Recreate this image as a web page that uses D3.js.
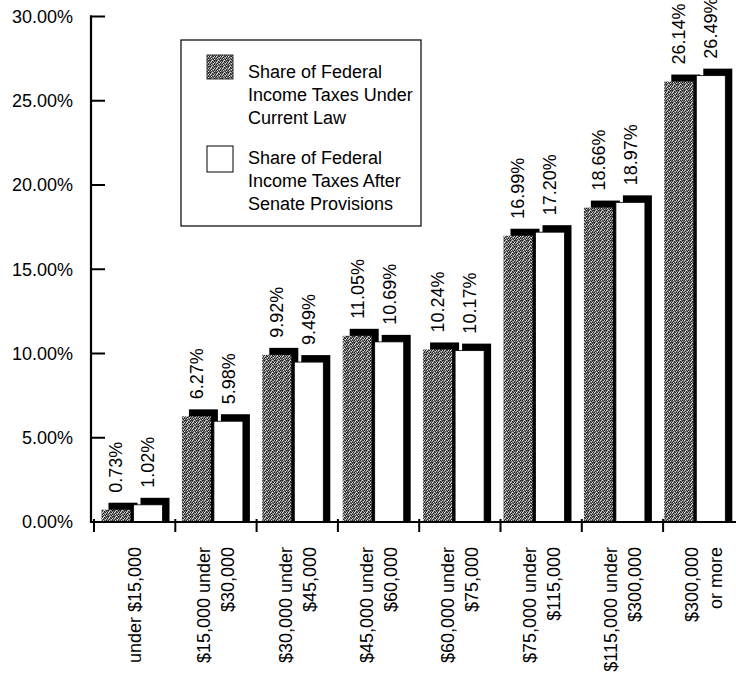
<!DOCTYPE html>
<html>
<head>
<meta charset="utf-8">
<script src="https://cdn.jsdelivr.net/npm/d3@7"></script>
<style>
  html, body { margin: 0; padding: 0; background: #fff; }
  svg { display: block; font-family: "Liberation Sans", Arial, Helvetica, sans-serif; }
</style>
</head>
<body>
<svg id="chart" width="736" height="675"></svg>
<script>
// Income brackets (each entry split into the lines drawn under the axis)
const categories = [
  ["under $15,000"],
  ["$15,000 under", "$30,000"],
  ["$30,000 under", "$45,000"],
  ["$45,000 under", "$60,000"],
  ["$60,000 under", "$75,000"],
  ["$75,000 under", "$115,000"],
  ["$115,000 under", "$300,000"],
  ["$300,000", "or more"]
];
// Share of federal income taxes (%)
const currentLaw = [0.73, 6.27, 9.92, 11.05, 10.24, 16.99, 18.66, 26.14];
const senateProvisions = [1.02, 5.98, 9.49, 10.69, 10.17, 17.20, 18.97, 26.49];
const yTicks = [0, 5, 10, 15, 20, 25, 30];
const legendLabels = [
  ["Share of Federal", "Income Taxes Under", "Current Law"],
  ["Share of Federal", "Income Taxes After", "Senate Provisions"]
];

const svg = d3.select("#chart");
const keys = categories.map((c, i) => "c" + i);

// stippled grey fill used for the current-law bars
const defs = svg.append("defs");
const stippleCells = [
  "k.w.kd",
  "dwk.d.",
  "w.dkwk",
  ".k.wd.",
  "kwd.k.",
  ".d.kwd"
];
const pw = stippleCells[0].length;
const stipple = defs.append("pattern")
  .attr("id", "stipple").attr("patternUnits", "userSpaceOnUse")
  .attr("width", pw).attr("height", stippleCells.length);
stipple.append("rect").attr("width", pw).attr("height", stippleCells.length).attr("fill", "#858585");
const shade = { k: "#1e1e1e", d: "#4a4a4a", w: "#d8d8d8" };
stippleCells.forEach((row, r) => {
  row.split("").forEach((ch, c) => {
    if (ch === ".") return;
    stipple.append("rect").attr("x", c).attr("y", r).attr("width", 1).attr("height", 1)
      .attr("fill", shade[ch]);
  });
});

const y = d3.scaleLinear().domain([0, 30]).range([522, 16.5]);
// bracket slots along the axis (tick marks and labels)
const xAxisScale = d3.scaleBand().domain(keys).range([94, 94 + 8 * 81.3]).padding(0);
// bar groups
const xBars = d3.scaleBand().domain(keys).range([101.5, 101.5 + 8 * 80.4]).padding(0);
const xSub = d3.scaleOrdinal().domain(["cur", "sen"]).range([0, 32]);
const barW = 29;
const depth = 7;

const series = [
  { id: "cur", values: currentLaw, fill: "url(#stipple)", stroke: "none" },
  { id: "sen", values: senateProvisions, fill: "#fff", stroke: "#000" }
];

const bars = svg.append("g");
keys.forEach((k, i) => {
  series.forEach(s => {
    const v = s.values[i];
    const x0 = xBars(k) + xSub(s.id);
    // offset black block giving the raised look
    bars.append("rect")
      .attr("x", x0 + depth).attr("y", y(v) - depth)
      .attr("width", barW).attr("height", y(0) - y(v) + depth)
      .attr("fill", "#000");
    bars.append("rect")
      .attr("x", x0).attr("y", y(v))
      .attr("width", barW).attr("height", y(0) - y(v))
      .attr("fill", s.fill).attr("stroke", s.stroke).attr("stroke-width", s.stroke === "none" ? 0 : 0.8);
    // value label
    const lx = x0 + barW / 2;
    const ly = y(v) - depth - 10;
    bars.append("text")
      .attr("transform", `translate(${lx},${ly}) rotate(-90)`)
      .attr("dy", "0.36em")
      .attr("text-anchor", "start")
      .attr("font-size", 18)
      .attr("fill", "#000")
      .text(v.toFixed(2) + "%");
  });
});

// y axis
const yAxis = svg.append("g");
yAxis.append("line").attr("x1", 91).attr("x2", 91).attr("y1", y(30) - 1).attr("y2", y(0) + 1)
  .attr("stroke", "#000").attr("stroke-width", 2.2);
yTicks.forEach(t => {
  yAxis.append("line").attr("x1", 90).attr("x2", 105).attr("y1", y(t)).attr("y2", y(t))
    .attr("stroke", "#000").attr("stroke-width", 2);
  yAxis.append("text").attr("x", 73).attr("y", y(t)).attr("dy", "0.36em")
    .attr("text-anchor", "end").attr("font-size", 18).attr("fill", "#000")
    .text(t.toFixed(2) + "%");
});

// x axis
const xAxis = svg.append("g");
xAxis.append("line").attr("x1", 90).attr("x2", 736).attr("y1", y(0)).attr("y2", y(0))
  .attr("stroke", "#000").attr("stroke-width", 2.2);
keys.forEach(k => {
  const tx = xAxisScale(k);
  xAxis.append("line").attr("x1", tx).attr("x2", tx).attr("y1", y(0) - 3).attr("y2", y(0) + 10)
    .attr("stroke", "#000").attr("stroke-width", 2);
});
categories.forEach((lines, i) => {
  const cx = xAxisScale(keys[i]) + xAxisScale.bandwidth() / 2;
  const n = lines.length;
  lines.forEach((line, j) => {
    const lx = cx + (j - (n - 1) / 2) * 24;
    xAxis.append("text")
      .attr("transform", `translate(${lx},547) rotate(-90)`)
      .attr("dy", "0.36em")
      .attr("text-anchor", "end")
      .attr("font-size", 18).attr("fill", "#000")
      .text(line);
  });
});

// legend
const legend = svg.append("g");
legend.append("rect").attr("x", 181).attr("y", 40).attr("width", 240).attr("height", 186)
  .attr("fill", "#fff").attr("stroke", "#000").attr("stroke-width", 1.2);
const swatches = [
  { y: 55, h: 24, fill: "url(#stipple)", stroke: "#333" },
  { y: 146, h: 26, fill: "#fff", stroke: "#000" }
];
swatches.forEach((sw, i) => {
  legend.append("rect").attr("x", 207).attr("y", sw.y).attr("width", 26).attr("height", sw.h)
    .attr("fill", sw.fill).attr("stroke", sw.stroke).attr("stroke-width", 1);
  legendLabels[i].forEach((line, j) => {
    legend.append("text").attr("x", 248).attr("y", (i === 0 ? 78 : 164) + j * 23)
      .attr("font-size", 18).attr("fill", "#000").text(line);
  });
});
</script>
</body>
</html>
